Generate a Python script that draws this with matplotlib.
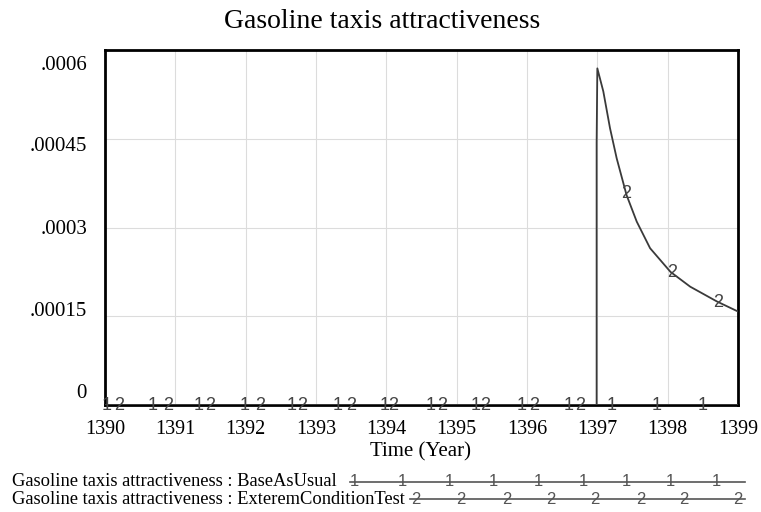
import numpy as np
import matplotlib.pyplot as plt
from matplotlib.lines import Line2D
from matplotlib.transforms import ScaledTranslation, blended_transform_factory

plt.rcParams['font.family'] = 'Liberation Serif'

# run 1: BaseAsUsual stays at zero the whole run
base_t = [1390.0, 1399.0]
base_v = [0.0, 0.0]

# run 2: ExteremConditionTest, zero until the shock then decaying
test_t = [1390.0, 1396.99, 1396.99, 1397.0, 1397.085, 1397.18, 1397.275, 1397.415,
          1397.56, 1397.75, 1398.04, 1398.32, 1398.7, 1399.0]
test_v = [0.0, 0.0, 0.000443, 0.000569, 0.00053, 0.000468, 0.000417, 0.000355,
          0.00031, 0.000265, 0.000225, 0.0002, 0.000175, 0.000158]

# positions of the run-number markers along each line
base_marks = [1390.03, 1390.68, 1391.33, 1391.99, 1392.65, 1393.31, 1393.97,
              1394.63, 1395.27, 1395.93, 1396.59, 1397.2, 1397.85, 1398.5]
test_marks = [1390.2, 1390.9, 1391.5, 1392.2, 1392.8, 1393.5, 1394.1, 1394.8,
              1395.4, 1396.1, 1396.75, 1397.41, 1398.06, 1398.72]

yticks = [0, 0.00015, 0.0003, 0.00045, 0.0006]
ytick_labels = ['0', '.00015', '.0003', '.00045', '.0006']
xticks = list(range(1390, 1400))

W, H = 761, 512
fig = plt.figure(figsize=(W / 100, H / 100), dpi=100)
ax = fig.add_axes([105 / W, 1 - 405 / H, 633 / W, 355 / H])

line_col = '#3a3a3a'
ax.plot(base_t, base_v, color=line_col, lw=1.3, zorder=3)
ax.plot(test_t, test_v, color=line_col, lw=1.3, zorder=3)

mark_font = dict(color='#444444', fontsize=13, family='Liberation Sans',
                 ha='center', va='center', zorder=4)
for t in base_marks:
    ax.text(t, np.interp(t, base_t, base_v), '1', **mark_font)
for t in test_marks:
    y = np.interp(t, test_t[3:], test_v[3:]) if t > 1397 else 0.0
    ax.text(t, y, '2', **mark_font)

ax.set_xlim(1390, 1399)
ax.set_ylim(0, 0.0006)
ax.set_xticks(xticks)
ax.set_xticklabels([str(x) for x in xticks], fontsize=14.5)
ax.set_yticks(yticks)
ax.set_yticklabels([])
ax.tick_params(length=0, pad=11, axis='x')
ax.tick_params(length=0, axis='y')
ax.grid(color='#dcdcdc', lw=0.8)
for s in ax.spines.values():
    s.set_linewidth(2)
    s.set_color('black')

# value labels sit evenly inside the axis span, a little off the grid lines
trans = blended_transform_factory(ax.transAxes, ax.transData)
label_shift = [-12, -5, 1.5, 8, 15]
for v, txt, dy in zip(yticks, ytick_labels, label_shift):
    ax.text(-18 / 633, v, txt, fontsize=15, ha='right', va='center',
            transform=trans + ScaledTranslation(0, -dy / 100, fig.dpi_scale_trans))

fig.text(421 / W, 1 - 452 / H, 'Time (Year)', fontsize=15,
         ha='center', va='center')
fig.text(382 / W, 1 - 22 / H, 'Gasoline taxis attractiveness', fontsize=20,
         ha='center', va='center')

# legend rows drawn underneath the plot
leg = fig.add_axes([0, 0, 1, 1], facecolor='none')
leg.set_xlim(0, W)
leg.set_ylim(H, 0)
leg.axis('off')
rows = [('Gasoline taxis attractiveness : BaseAsUsual', 482, 350, '1',
         [354, 402, 449, 493, 538, 583, 626, 670, 716]),
        ('Gasoline taxis attractiveness : ExteremConditionTest', 499, 410, '2',
         [416, 461, 507, 551, 595, 641, 684, 738])]
for label, y, x0, num, pos in rows:
    leg.text(12, y, label, fontsize=13.3, ha='left', va='center')
    leg.add_line(Line2D([x0, 745], [y, y], color='#555555', lw=1.2))
    for px in pos:
        leg.text(px, y, num, fontsize=12, family='Liberation Sans',
                 color='#555555', ha='center', va='center')

fig.savefig('out.png', dpi=100)
